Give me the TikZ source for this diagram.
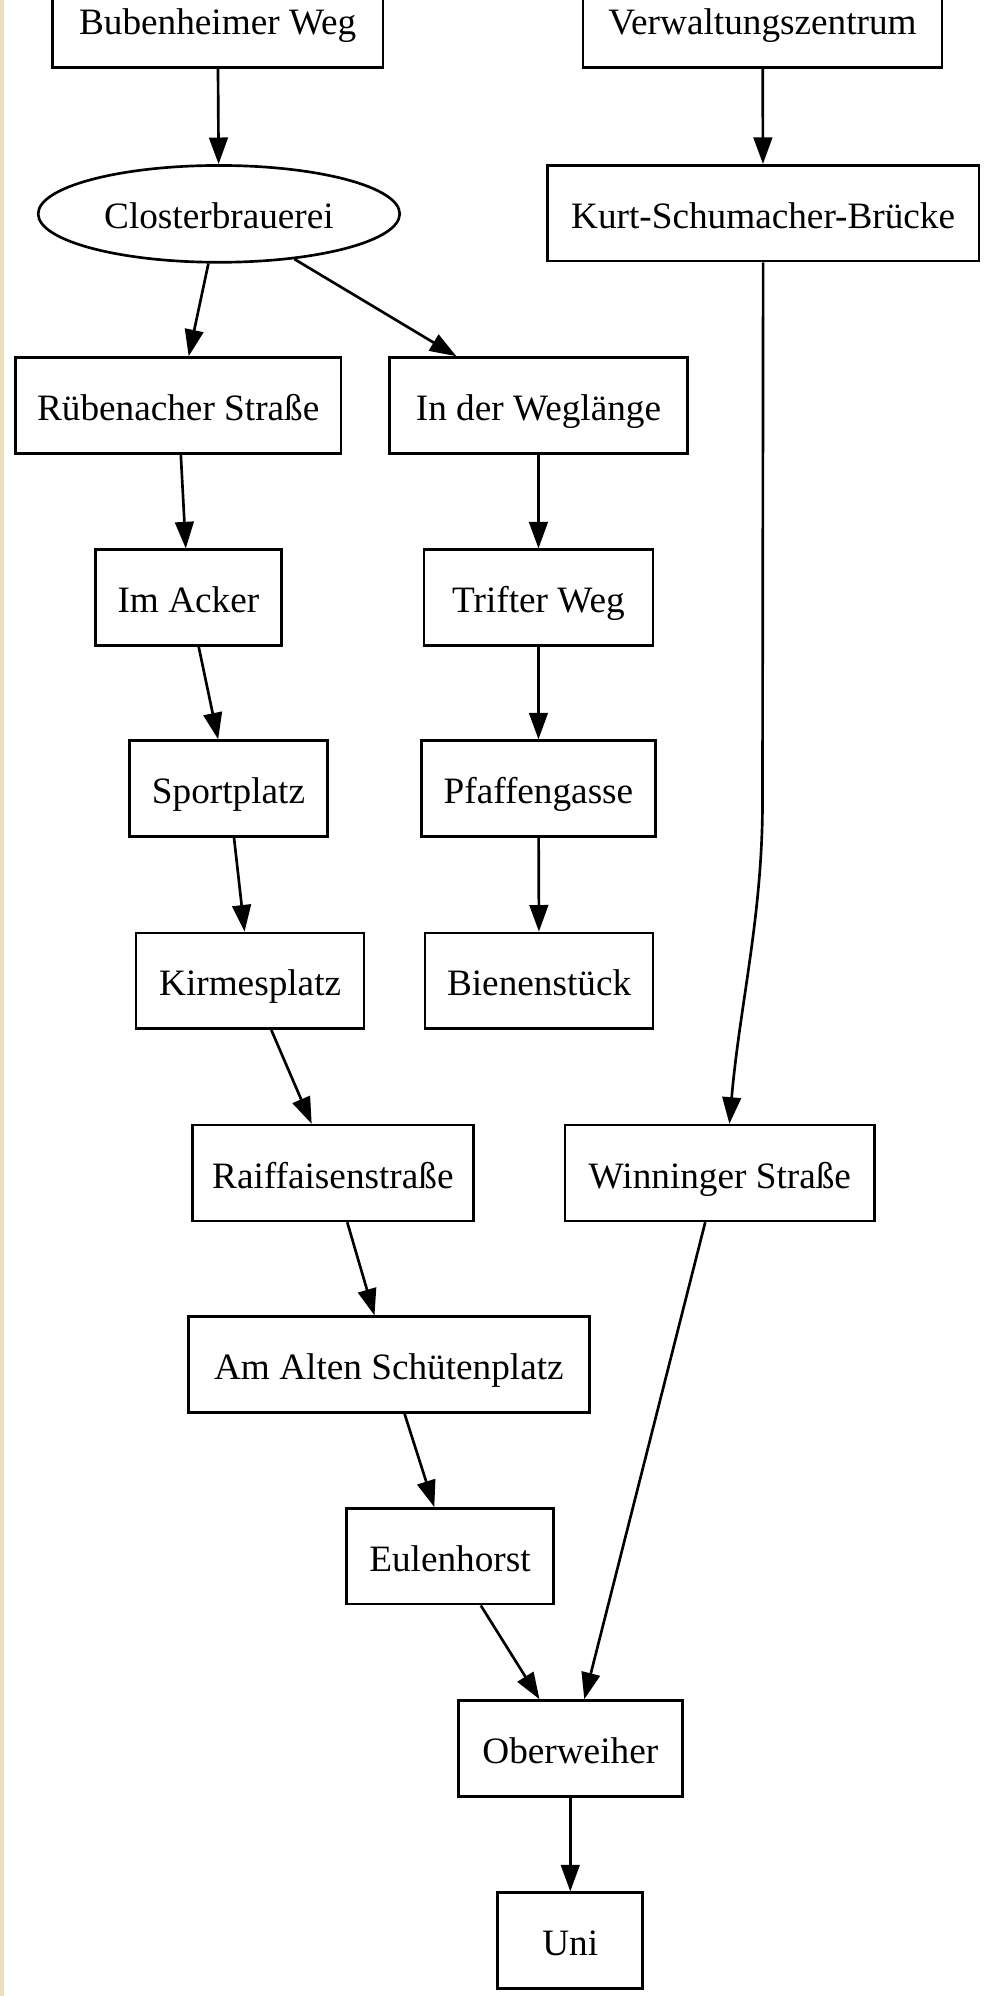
\documentclass[tikz,border=0pt]{standalone}
\usepackage{fontspec}
\setmainfont{Liberation Serif}
\usetikzlibrary{arrows.meta,shapes.geometric}
\definecolor{beige}{RGB}{234,224,192}
\begin{document}
\begin{tikzpicture}[x=0.4785pt,y=-0.4785pt,
  lbl/.style={font=\fontsize{14pt}{16pt}\selectfont,text height=12pt,text depth=0.7pt},
  box/.style={draw,line width=1pt,rectangle,inner sep=0pt,minimum height=36pt,lbl},
  ell/.style={draw,line width=1pt,ellipse,inner sep=0pt,lbl},
  edge/.style={draw,line width=1pt,-{Triangle[length=10pt,width=7pt]}}]
\useasboundingbox (0,0) rectangle (774,1568);
\fill[white] (0,0) rectangle (774,1568);
\fill[beige] (0,0) rectangle (3,1568);

\node[box,minimum width=124.4pt] (bub) at (171,15.5) {Bubenheimer Weg};
\node[box,minimum width=134.9pt] (ver) at (599,15.5) {Verwaltungszentrum};
\node[ell,minimum width=135.9pt,minimum height=36.4pt] (clo) at (172,168) {Closterbrauerei};
\node[box,minimum width=162.2pt] (kur) at (599.5,167.5) {Kurt-Schumacher-Brücke};
\node[box,minimum width=122.5pt] (rue) at (140,318.5) {Rübenacher Straße};
\node[box,minimum width=112pt] (weg) at (423,318.5) {In der Weglänge};
\node[box,minimum width=69.9pt] (ack) at (148,469.5) {Im Acker};
\node[box,minimum width=86.1pt] (tri) at (423,469.5) {Trifter Weg};
\node[box,minimum width=74.2pt] (spo) at (179.5,619.5) {Sportplatz};
\node[box,minimum width=88pt] (pfa) at (423,619.5) {Pfaffengasse};
\node[box,minimum width=85.7pt] (kir) at (196.5,770.5) {Kirmesplatz};
\node[box,minimum width=85.7pt] (bie) at (423.5,770.5) {Bienenstück};
\node[box,minimum width=105.7pt] (rai) at (261.5,921.5) {Raiffaisenstraße};
\node[box,minimum width=116.3pt] (win) at (565.5,921.5) {Winninger Straße};
\node[box,minimum width=150.7pt] (alt) at (305.5,1072) {Am Alten Schütenplatz};
\node[box,minimum width=78pt] (eul) at (353.5,1222.5) {Eulenhorst};
\node[box,minimum width=84.2pt] (obe) at (448,1373.5) {Oberweiher};
\node[box,minimum width=54.5pt] (uni) at (448,1524.5) {Uni};

\coordinate (kb) at (599,630);

\path[edge] (bub) -- (clo);
\path[edge] (ver) -- (kur);
\path[edge] (clo) -- (rue);
\path[edge] (clo) -- (weg);
\path[edge] (rue) -- (ack);
\path[edge] (weg) -- (tri);
\path[edge] (tri) -- (pfa);
\path[edge] (pfa) -- (bie);
\path[edge] (ack) -- (spo);
\path[edge] (spo) -- (kir);
\path[edge] (kir) -- (rai);
\path[edge] (rai) -- (alt);
\path[edge] (alt) -- (eul);
\path[edge] (eul) -- (obe);
\path[edge] ([shift={(-11.5,0)}]win.south) -- ([shift={(11,0)}]obe.north);
\path[edge] (obe) -- (uni);
\path[edge] (kur.south) -- (kb) .. controls (599,720) and (581,790) .. ([shift={(7.5,0)}]win.north);
\end{tikzpicture}
\end{document}
